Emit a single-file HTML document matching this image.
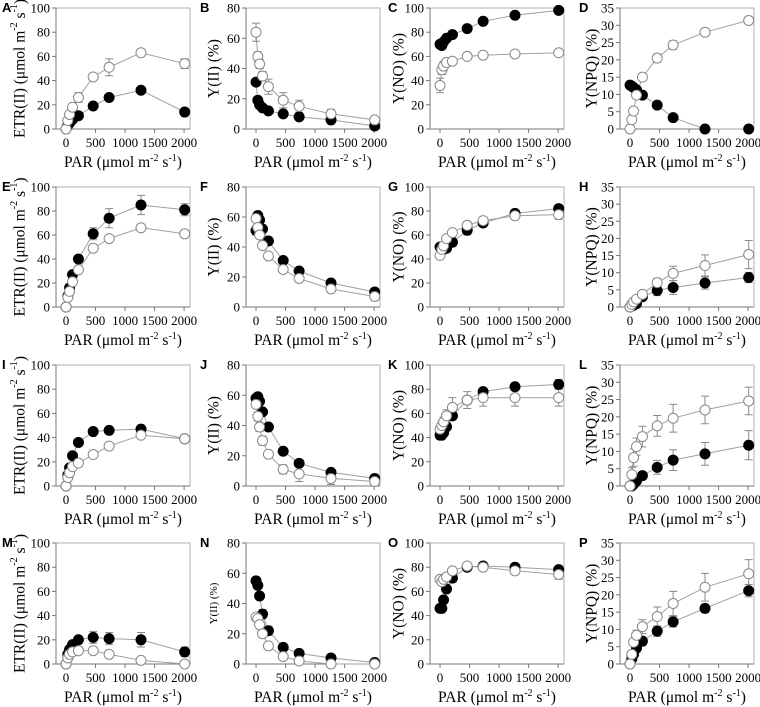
<!DOCTYPE html>
<html><head><meta charset="utf-8"><style>
html,body{margin:0;padding:0;background:#fff;}
svg{display:block;}
svg text{font-family:"Liberation Serif","DejaVu Serif",serif;}
svg text.letter{font-family:"Liberation Sans",sans-serif;font-weight:bold;}
</style></head><body>
<svg id="fig" width="760" height="707" xmlns="http://www.w3.org/2000/svg"></svg>
<script>
const PAR = [0, 30, 60, 110, 210, 460, 730, 1270, 2010];
const xTicks = [0, 500, 1000, 1500, 2000];
const panelLetters = ["A","B","C","D","E","F","G","H","I","J","K","L","M","N","O","P"];
const yMaxes = [100, 80, 100, 35];
const yTicks100 = [0, 20, 40, 60, 80, 100];
const yTicks80 = [0, 20, 40, 60, 80];
const yTicks35 = [0, 5, 10, 15, 20, 25, 30, 35];
// filled series
const fA = [0,3,5,8,11,19,26,32,14];
const fB = [31,19,16,14,12,10,8,6,2];
const fC = [70,69,72,75,78,83,89,94,98];
const fD = [12.7,12.4,12,11.3,9.8,6.9,3.3,0,0];
const fE = [0,9,16,27,40,61,74,85,81];
const fF = [51,61,58,52,44,31,24,16,10];
const fG = [50,49,48,49,54,64,70,78,82];
const fH = [0,0.3,0.5,1,3,4.8,5.7,7,8.6];
const fI = [0,9,15,25,36,45,46,47,39];
const fJ = [58,59,56,49,39,23,15,9,5];
const fK = [42,42,44,49,58,71,78,82,84];
const fL = [0,0,0.5,1.5,3,5.4,7.5,9.3,11.8];
const fM = [0,8,12,16,20,22,21,20,10];
const fN = [55,52,45,33,22,11,7,4,1];
const fO = [46,46,53,62,71,80,81,80,78];
const fP = [0,1.5,2.8,4.6,6.6,9.5,12.2,16.1,21.2];
// filled errors
const efA = [0,1,1,1,1,1,1,2,1];
const efB = [1,1,1,1,1,1,1,1,1];
const efC = [1,1,1,1,1,1,1,1,1];
const efD = [0.3,0.3,0.3,0.3,0.4,0.4,0.4,0.2,0.2];
const efE = [0,1,2,2,2,5,8,8,5];
const efF = [3,2,2,2,2,2,2,1,1];
const efG = [2,2,2,2,3,4,3,2,2];
const efH = [0,0.2,0.3,0.5,0.7,1.5,2,1.8,1.5];
const efI = [0,1,1,1,1,1,1,1,1];
const efJ = [2,2,2,2,2,1,1,1,1];
const efK = [2,2,2,3,3,3,3,3,4];
const efL = [0,0.2,0.4,0.5,1,2,3,3.3,4.2];
const efM = [0,1,2,2,2,5,5,6,4];
const efN = [1,1,1,3,3,2,1,1,1];
const efO = [2,2,2,3,3,2,2,2,2];
const efP = [0,0.5,0.8,1,1.2,1.5,1.5,1.2,1.8];
// open series
const oA = [0,7,12,18,26,43,51,63,54];
const oB = [64,48,43,35,28,19,15,10,6];
const oC = [36,49,52,55,56,60,61,62,63];
const oD = [0,2.7,5.2,9.8,15,20.5,24.3,28,31.4];
const oE = [0,8,13,21,31,49,57,66,61];
const oF = [59,53,48,41,34,25,19,12,7];
const oG = [43,48,51,57,62,68,72,76,77];
const oH = [0,0.8,1.5,2.3,3.7,7.1,9.8,12.1,15.3];
const oI = [0,7,11,16,19,26,33,42,39];
const oJ = [54,46,39,30,21,11,8,5,3];
const oK = [47,50,53,58,65,71,73,73,73];
const oL = [0,3.3,8.2,11.4,14.3,17.4,19.6,22,24.6];
const oM = [0,5,8,10,11,11,8,3,0];
const oN = [31,30,26,20,12,5,2,0,0];
const oO = [70,68,70,72,77,81,80,77,74];
const oP = [0,2.8,6.3,8.3,10.8,13.7,17.5,22.2,26.1];
// open errors
const eoA = [0,1,2,2,4,2,7,3,4];
const eoB = [6,3,3,3,5,5,4,3,2];
const eoC = [6,4,4,3,2,2,2,1,1];
const eoD = [0.5,0.8,0.9,1,1,1.2,1.2,1,1];
const eoE = [0,1,1,1,1,1,1,1,1];
const eoF = [2,2,2,2,2,2,2,1,1];
const eoG = [2,2,2,2,2,3,3,3,4];
const eoH = [0,0.3,0.4,0.5,0.7,1.2,2.1,3.1,4.1];
const eoI = [0,1,1,1,1,1,1,1,1];
const eoJ = [2,3,3,3,2,3,5,4,2];
const eoK = [3,4,4,5,8,7,7,7,7];
const eoL = [0,2,2.5,2.5,3,3,4,4,4];
const eoM = [0,1,1,1,1,1,1,1,1];
const eoN = [2,2,2,2,2,2,2,1,1];
const eoO = [2,2,2,2,2,2,2,3,4];
const eoP = [0,1,1,1.5,2,2.8,3.5,4,4.1];

const filled = [fA,fB,fC,fD,fE,fF,fG,fH,fI,fJ,fK,fL,fM,fN,fO,fP];
const filledErr = [efA,efB,efC,efD,efE,efF,efG,efH,efI,efJ,efK,efL,efM,efN,efO,efP];
const open = [oA,oB,oC,oD,oE,oF,oG,oH,oI,oJ,oK,oL,oM,oN,oO,oP];
const openErr = [eoA,eoB,eoC,eoD,eoE,eoF,eoG,eoH,eoI,eoJ,eoK,eoL,eoM,eoN,eoO,eoP];

const NS = "http://www.w3.org/2000/svg";
const svg = document.getElementById("fig");
const colLeft = [56, 246, 430, 620];
const rowTop = [8, 187, 365, 543];
const rowBottom = [129, 307, 486, 664];
const yLabelX = [20, 214, 399, 592];
const letterX = [2, 200, 388, 579];
const W = 134;
const XMIN = -170, XMAX = 2100;
function mk(tag, attrs, parent) {
  const e = document.createElementNS(NS, tag);
  for (const k in attrs) e.setAttribute(k, attrs[k]);
  (parent || svg).appendChild(e);
  return e;
}
const gray = "#8a8a8a";

for (let p = 0; p < 16; p++) {
  const r = Math.floor(p / 4), c = p % 4;
  const L = colLeft[c], T = rowTop[r], B = rowBottom[r];
  const ymax = yMaxes[c];
  const ticks = c === 1 ? yTicks80 : (c === 3 ? yTicks35 : yTicks100);
  const xs = v => L + (v - XMIN) / (XMAX - XMIN) * W;
  const ys = v => B - v / ymax * (B - T);
  const g = mk("g", {});
  
  

  const lt = mk("text", {x: letterX[c], y: T + 4, "class": "letter", "font-size": "13"}, g);
  
  
  lt.textContent = panelLetters[p];

  const frame = mk("rect", {x: L, y: T, width: W, height: B - T, fill: "none", stroke: "#b0b0b0", "stroke-width": 1}, g);
  
  
  const yax = mk("line", {x1: L, y1: T, x2: L, y2: B, stroke: "#777", "stroke-width": 1}, g);
  
  
  const xax = mk("line", {x1: L, y1: B, x2: L + W, y2: B, stroke: "#777", "stroke-width": 1}, g);
  
  

  for (const t of ticks) {
    const tk = mk("line", {x1: L - 4, y1: ys(t), x2: L, y2: ys(t), stroke: "#777"}, g);
    
    
    const tl = mk("text", {x: L - 6, y: ys(t) + 4.5, "text-anchor": "end", "font-size": "13"}, g);
    
    
    tl.textContent = t;
  }
  for (const t of xTicks) {
    const tk = mk("line", {x1: xs(t), y1: B, x2: xs(t), y2: B + 4, stroke: "#777"}, g);
    
    
    const tl = mk("text", {x: xs(t), y: B + 18, "text-anchor": "middle", "font-size": "13"}, g);
    
    
    tl.textContent = t;
  }
  const xl = mk("text", {x: L + W / 2, y: B + 38, "text-anchor": "middle", "font-size": "15.5"}, g);
  
  
  xl.innerHTML = 'PAR (μmol m<tspan dy="-6" font-size="10">-2</tspan><tspan dy="6"> s</tspan><tspan dy="-6" font-size="10">-1</tspan><tspan dy="6">)</tspan>';

  const yc = (T + B) / 2;
  const yfs = (p === 13) ? 11 : 15.5;
  const yl = mk("text", {x: yLabelX[c], y: yc, "text-anchor": "middle", "font-size": yfs, transform: `rotate(-90 ${yLabelX[c]} ${yc})`, "dominant-baseline": "central"}, g);
  
  
  if (c === 0) yl.innerHTML = 'ETR(II) (μmol m<tspan dy="-6" font-size="10">-2</tspan><tspan dy="6"> s</tspan><tspan dy="-6" font-size="10">-1</tspan><tspan dy="6">)</tspan>';
  else yl.textContent = ["", "Y(II) (%)", "Y(NO) (%)", "Y(NPQ) (%)"][c];

  const series = [[filled[p], filledErr[p], "f"], [open[p], openErr[p], "o"]];
  for (const [vals, errs, kind] of series) {
    const pts = vals.map((v, i) => xs(PAR[i]).toFixed(1) + "," + ys(v).toFixed(1)).join(" ");
    const ln = mk("polyline", {points: pts, fill: "none", stroke: "#a0a0a0", "stroke-width": 1}, g);
    
    
    vals.forEach((v, i) => {
      const e = errs[i];
      if (e > 0) {
        const x = xs(PAR[i]);
        const eb = mk("path", {d: `M${x},${ys(v - e)}V${ys(v + e)}M${x - 4},${ys(v + e)}H${x + 4}M${x - 4},${ys(v - e)}H${x + 4}`, stroke: gray, "stroke-width": 1, fill: "none"}, g);
        
        
      }
    });
  }
  for (const [vals, errs, kind] of series) {
    vals.forEach((v, i) => {
      const ci = mk("circle", {cx: xs(PAR[i]), cy: ys(v), r: 5, fill: kind === "f" ? "#000" : "#fff", stroke: kind === "f" ? "#000" : "#888", "stroke-width": 1}, g);
      
      
    });
  }
}
</script>
</body></html>
